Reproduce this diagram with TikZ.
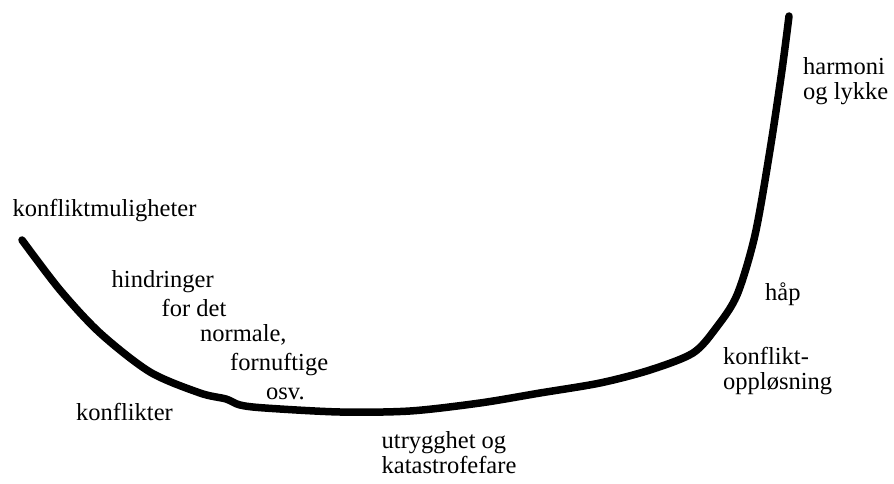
\documentclass[tikz,border=0pt]{standalone}
\usepackage{fontspec}
\setmainfont{Liberation Serif}
\begin{document}
\begin{tikzpicture}[x=1pt,y=-1pt,
  lbl/.style={anchor=base west,inner sep=0pt,font=\fontsize{24.5}{27}\selectfont},
  curve/.style={line width=7.5pt,line cap=round,line join=round}]
\useasboundingbox (0,0) rectangle (894,484);
% the life curve
\draw[curve] plot[smooth,tension=0.5] coordinates {
  (22,240) (60,290) (100,333) (150,372) (200,393) (226,399) (240,405)
  (265,408) (340,412) (410,411) (480,403) (540,393) (600,383) (650,370)
  (693,353) (716,328) (737,295) (755,235) (770,150) (782,70) (789,16)};
% labels
\node[lbl] (a) at (12.5,216) {konfliktmuligheter};
\node[lbl] (b) at (111.5,287) {hindringer};
\node[lbl] (c) at (161.5,316.5) {for det};
\node[lbl] (d) at (200,341) {normale,};
\node[lbl] (e) at (230,370) {fornuftige};
\node[lbl] (f) at (266,399) {osv.};
\node[lbl] (g) at (76,420) {konflikter};
\node[lbl] (h) at (381.5,448) {utrygghet og};
\node[lbl] (i) at (381.5,473) {katastrofefare};
\node[lbl] (j) at (803,75) {harmoni};
\node[lbl] (k) at (803,100) {og lykke};
\node[lbl] (l) at (765,300) {håp};
\node[lbl] (m) at (723,364) {konflikt-};
\node[lbl] (n) at (723,389) {oppløsning};
\end{tikzpicture}
\end{document}
